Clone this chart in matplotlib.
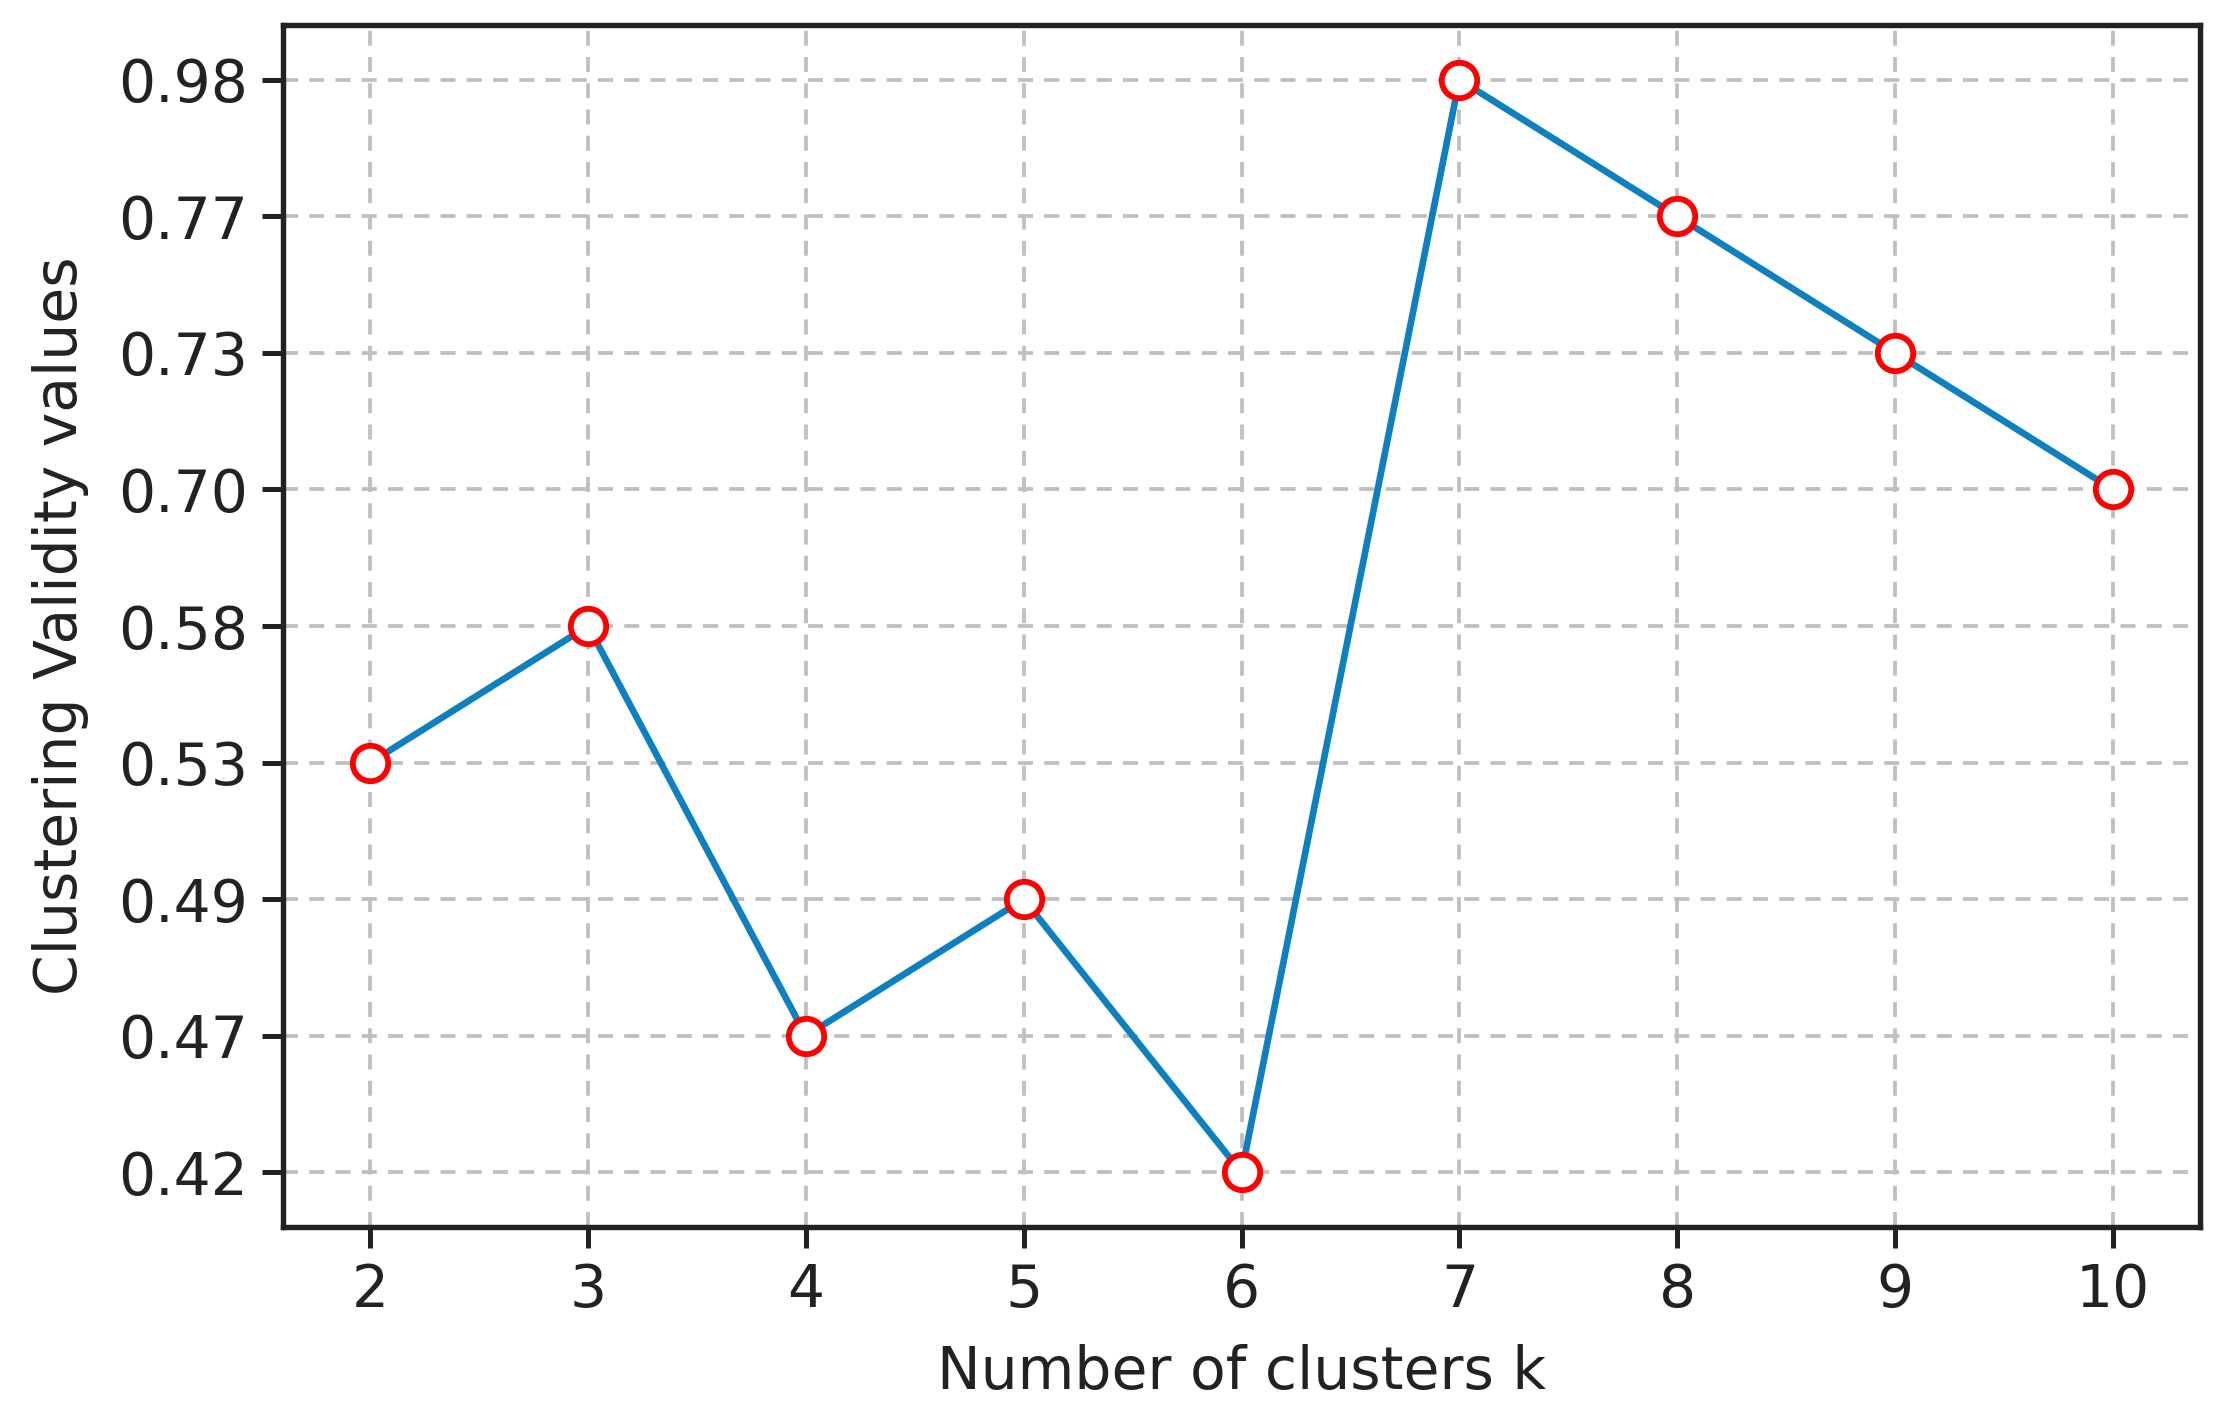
import matplotlib
matplotlib.use('Agg')
import matplotlib.pyplot as plt

# clustering validity per number of clusters
k_values = [2, 3, 4, 5, 6, 7, 8, 9, 10]
validity = [0.53, 0.58, 0.47, 0.49, 0.42, 0.98, 0.77, 0.73, 0.70]

# y axis is ordinal: each distinct value gets its own evenly spaced level
levels = sorted(set(validity))
level_labels = [f'{v:.2f}' for v in levels]
positions = [levels.index(v) for v in validity]

fig, ax = plt.subplots(figsize=(2221 / 300, 1426 / 300), dpi=300)
fig.subplots_adjust(left=0.1275, right=0.9905, top=0.9825, bottom=0.1395)

ax.plot(k_values, positions, color='#0e80c0', linewidth=1.6,
        marker='o', markersize=8.5, markerfacecolor='white',
        markeredgecolor='red', markeredgewidth=1.4, zorder=3)

ax.set_xticks(k_values)
ax.set_yticks(range(len(levels)), level_labels)
ax.tick_params(labelsize=14, width=1.2, length=5, colors='#222222')

ax.grid(True, linestyle=(0, (4, 3)), color='#bfbfbf', linewidth=0.9)
ax.set_axisbelow(True)
for spine in ax.spines.values():
    spine.set_linewidth(1.3)
    spine.set_color('#222222')

ax.set_xlabel('Number of clusters k', fontsize=14, color='#222222', labelpad=6)
ax.set_ylabel('Clustering Validity values', fontsize=14, color='#222222', labelpad=7)

fig.savefig('out.png', dpi=300)
